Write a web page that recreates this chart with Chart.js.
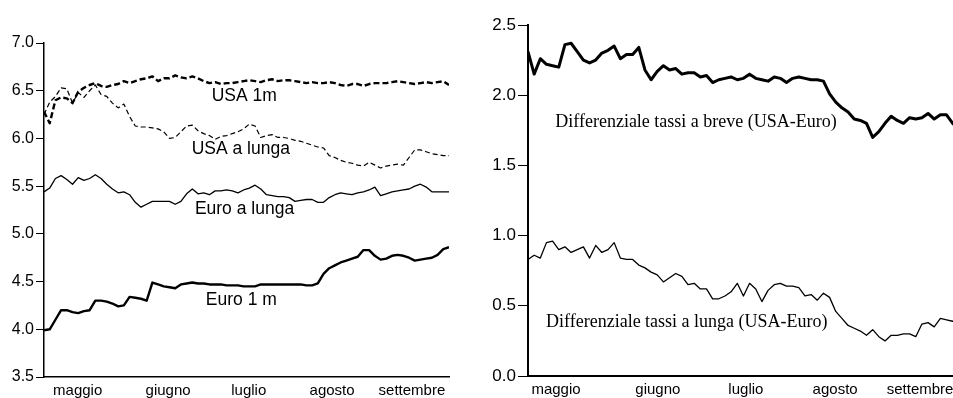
<!DOCTYPE html>
<html lang="it">
<head>
<meta charset="utf-8">
<title>Tassi di interesse USA ed Euro</title>
<script src="https://cdn.jsdelivr.net/npm/chart.js@4.4.1/dist/chart.umd.min.js"></script>
<style>
  html, body { margin: 0; padding: 0; background: #fff; overflow: hidden; }
  body { width: 953px; height: 398px; position: relative; }
  .box { position: absolute; top: 0; height: 398px; }
  #left { left: 0; width: 470px; }
  #right { left: 470px; width: 510px; }
</style>
</head>
<body>
<div class="box" id="left"><canvas id="tassi"></canvas></div>
<div class="box" id="right"><canvas id="differenziali"></canvas></div>
<script>
                ///// Dati /////
const months = ['maggio', 'giugno', 'luglio', 'agosto', 'settembre'];
// where each month name sits along the day axis
const monthTicksLeft = [5.9, 21.75, 35.9, 50.5, 64.5];
const monthTicksRight = [4.55, 21.1, 35.4, 49.9, 63.7];

const usa1m = [
  6.28, 6.16, 6.40, 6.43, 6.42, 6.37, 6.49, 6.53, 6.56, 6.58,
  6.55, 6.54, 6.56, 6.57, 6.60, 6.58, 6.60, 6.62, 6.63, 6.65,
  6.60, 6.63, 6.63, 6.66, 6.64, 6.63, 6.65, 6.63, 6.60, 6.58,
  6.59, 6.57, 6.58, 6.58, 6.59, 6.60, 6.61, 6.60, 6.59, 6.61,
  6.62, 6.60, 6.61, 6.61, 6.60, 6.59, 6.58, 6.59, 6.58, 6.58,
  6.59, 6.58, 6.56, 6.55, 6.57, 6.57, 6.55, 6.57, 6.58, 6.58,
  6.58, 6.59, 6.60, 6.59, 6.58, 6.57, 6.58, 6.59, 6.58, 6.59,
  6.60, 6.56
];
const usaLunga = [
  6.25, 6.38, 6.44, 6.53, 6.52, 6.37, 6.48, 6.43, 6.50, 6.56,
  6.46, 6.44, 6.37, 6.32, 6.36, 6.23, 6.13, 6.12, 6.12, 6.11,
  6.10, 6.07, 6.00, 6.01, 6.07, 6.13, 6.14, 6.08, 6.05, 6.03,
  5.99, 6.02, 6.03, 6.05, 6.07, 6.10, 6.15, 6.13, 6.01, 6.03,
  6.04, 6.01, 6.01, 6.00, 5.98, 5.97, 5.95, 5.93, 5.91, 5.90,
  5.82, 5.80, 5.77, 5.75, 5.74, 5.72, 5.71, 5.75, 5.72, 5.69,
  5.71, 5.72, 5.73, 5.72, 5.80, 5.88, 5.88, 5.86, 5.84, 5.83,
  5.82, 5.82
];
const euroLunga = [
  5.44, 5.48, 5.58, 5.61, 5.57, 5.52, 5.59, 5.56, 5.58, 5.62,
  5.58, 5.52, 5.47, 5.43, 5.44, 5.41, 5.33, 5.28, 5.31, 5.34,
  5.34, 5.34, 5.34, 5.31, 5.34, 5.42, 5.47, 5.42, 5.43, 5.41,
  5.45, 5.45, 5.46, 5.45, 5.43, 5.46, 5.48, 5.51, 5.47, 5.41,
  5.40, 5.39, 5.39, 5.38, 5.34, 5.35, 5.36, 5.36, 5.33, 5.33,
  5.38, 5.41, 5.43, 5.42, 5.41, 5.43, 5.44, 5.46, 5.49, 5.40,
  5.42, 5.44, 5.45, 5.46, 5.47, 5.50, 5.52, 5.49, 5.44, 5.44,
  5.44, 5.44
];
const euro1m = [
  3.99, 4.00, 4.10, 4.20, 4.20, 4.18, 4.17, 4.19, 4.20, 4.30,
  4.30, 4.29, 4.27, 4.24, 4.25, 4.34, 4.33, 4.32, 4.30, 4.49,
  4.47, 4.45, 4.44, 4.43, 4.47, 4.48, 4.49, 4.48, 4.48, 4.47,
  4.47, 4.47, 4.46, 4.46, 4.46, 4.45, 4.45, 4.45, 4.47, 4.47,
  4.47, 4.47, 4.47, 4.47, 4.47, 4.47, 4.46, 4.46, 4.48, 4.58,
  4.64, 4.67, 4.70, 4.72, 4.74, 4.76, 4.83, 4.83, 4.77, 4.73,
  4.74, 4.77, 4.78, 4.77, 4.75, 4.72, 4.73, 4.74, 4.75, 4.78,
  4.84, 4.86
];
const diffBreve = [
  2.31, 2.15, 2.26, 2.22, 2.21, 2.20, 2.36, 2.37, 2.31, 2.25,
  2.23, 2.25, 2.30, 2.32, 2.35, 2.26, 2.29, 2.29, 2.34, 2.18,
  2.11, 2.17, 2.21, 2.18, 2.19, 2.15, 2.16, 2.16, 2.13, 2.14,
  2.09, 2.11, 2.12, 2.13, 2.11, 2.12, 2.15, 2.12, 2.11, 2.10,
  2.13, 2.12, 2.09, 2.12, 2.13, 2.12, 2.11, 2.11, 2.10, 2.01,
  1.95, 1.91, 1.88, 1.83, 1.82, 1.80, 1.70, 1.74, 1.80, 1.85,
  1.82, 1.80, 1.84, 1.83, 1.84, 1.87, 1.83, 1.86, 1.86, 1.80,
  1.76, 1.72
];
const diffLunga = [
  0.83, 0.86, 0.84, 0.95, 0.96, 0.90, 0.92, 0.88, 0.90, 0.92,
  0.84, 0.93, 0.88, 0.90, 0.95, 0.84, 0.83, 0.83, 0.79, 0.77,
  0.74, 0.72, 0.67, 0.70, 0.73, 0.71, 0.65, 0.66, 0.62, 0.62,
  0.55, 0.55, 0.57, 0.60, 0.66, 0.57, 0.66, 0.62, 0.53, 0.61,
  0.65, 0.66, 0.64, 0.64, 0.63, 0.57, 0.58, 0.54, 0.59, 0.56,
  0.46, 0.41, 0.36, 0.34, 0.32, 0.29, 0.33, 0.28, 0.25, 0.29,
  0.29, 0.30, 0.30, 0.28, 0.37, 0.38, 0.35, 0.41, 0.40, 0.39,
  0.40, 0.39
];
const days = usa1m.map((_, i) => i);

// text written next to the lines, placed in data units
const leftNotes = [
  { text: 'USA 1m', x: 35.1, y: 6.44 },
  { text: 'USA a lunga', x: 34.5, y: 5.89 },
  { text: 'Euro a lunga', x: 35.15, y: 5.26 },
  { text: 'Euro 1 m', x: 34.6, y: 4.30 }
];
const rightNotes = [
  { text: 'Differenziale tassi a breve (USA-Euro)', x: 27.3, y: 1.81 },
  { text: 'Differenziale tassi a lunga (USA-Euro)', x: 25.8, y: 0.385 }
];

                ///// Plugin etichette /////
const notesPlugin = {
  id: 'notes',
  afterDatasetsDraw(chart, args, opts) {
    const { ctx, scales: { x, y } } = chart;
    ctx.save();
    ctx.fillStyle = '#000';
    ctx.font = opts.font;
    ctx.textAlign = 'center';
    ctx.textBaseline = 'middle';
    opts.items.forEach(n => ctx.fillText(n.text, x.getPixelForValue(n.x), y.getPixelForValue(n.y)));
    ctx.restore();
  }
};

function line(values, width, dash) {
  return {
    data: values,
    borderColor: '#000',
    borderWidth: width,
    borderDash: dash || [],
    borderJoinStyle: 'round',
    pointRadius: 0,
    tension: 0,
    fill: false
  };
}

function axes(ticksAt, yMin, yMax, yWidth, xHeight, tickLen, yFont, axisWidth) {
  return {
    x: {
      type: 'linear',
      min: 0,
      max: days.length - 1,
      afterBuildTicks: s => { s.ticks = ticksAt.map(v => ({ value: v })); },
      afterFit: s => { s.height = xHeight; },
      grid: { display: true, drawOnChartArea: false, drawTicks: false },
      border: { display: true, color: '#000', width: axisWidth },
      ticks: {
        autoSkip: false,
        maxRotation: 0,
        padding: 5,
        color: '#000',
        font: { family: 'Arial, "Liberation Sans"', size: 15 },
        callback: (v, i) => months[i]
      }
    },
    y: {
      min: yMin,
      max: yMax,
      afterFit: s => { s.width = yWidth; },
      grid: { drawOnChartArea: false, drawTicks: true, tickLength: tickLen, color: '#000', lineWidth: 1 },
      border: { display: true, color: '#000', width: axisWidth },
      ticks: {
        stepSize: 0.5,
        padding: 2,
        color: '#000',
        font: { family: 'Arial, "Liberation Sans"', size: yFont },
        callback: v => v.toFixed(1)
      }
    }
  };
}

                ///// Tassi /////
let tassiChart = new Chart(document.getElementById('tassi'), {
  type: 'line',
  data: {
    labels: days,
    datasets: [
      line(usa1m, 2.4, [6, 3]),
      line(usaLunga, 1.2, [5, 3]),
      line(euroLunga, 1.3),
      line(euro1m, 2.4)
    ]
  },
  options: {
    responsive: true,
    maintainAspectRatio: false,
    animation: false,
    devicePixelRatio: 1,
    layout: { padding: { top: 43, right: 21, left: 0, bottom: 0 } },
    scales: axes(monthTicksLeft, 3.5, 7.0, 44, 21, 8, 16, 1.5),
    plugins: {
      legend: { display: false },
      tooltip: { enabled: false },
      notes: { items: leftNotes, font: '17.5px Arial, "Liberation Sans"' }
    }
  },
  plugins: [notesPlugin]
});

                ///// Differenziali /////
let diffChart = new Chart(document.getElementById('differenziali'), {
  type: 'line',
  data: {
    labels: days,
    datasets: [
      line(diffBreve, 3),
      line(diffLunga, 1.3)
    ]
  },
  options: {
    responsive: true,
    maintainAspectRatio: false,
    animation: false,
    devicePixelRatio: 1,
    layout: { padding: { top: 25, right: 15, left: 0, bottom: 0 } },
    scales: axes(monthTicksRight, 0, 2.5, 58, 22, 10, 17, 2),
    plugins: {
      legend: { display: false },
      tooltip: { enabled: false },
      notes: { items: rightNotes, font: '18px "Times New Roman", "Liberation Serif"' }
    }
  },
  plugins: [notesPlugin]
});
</script>
</body>
</html>
